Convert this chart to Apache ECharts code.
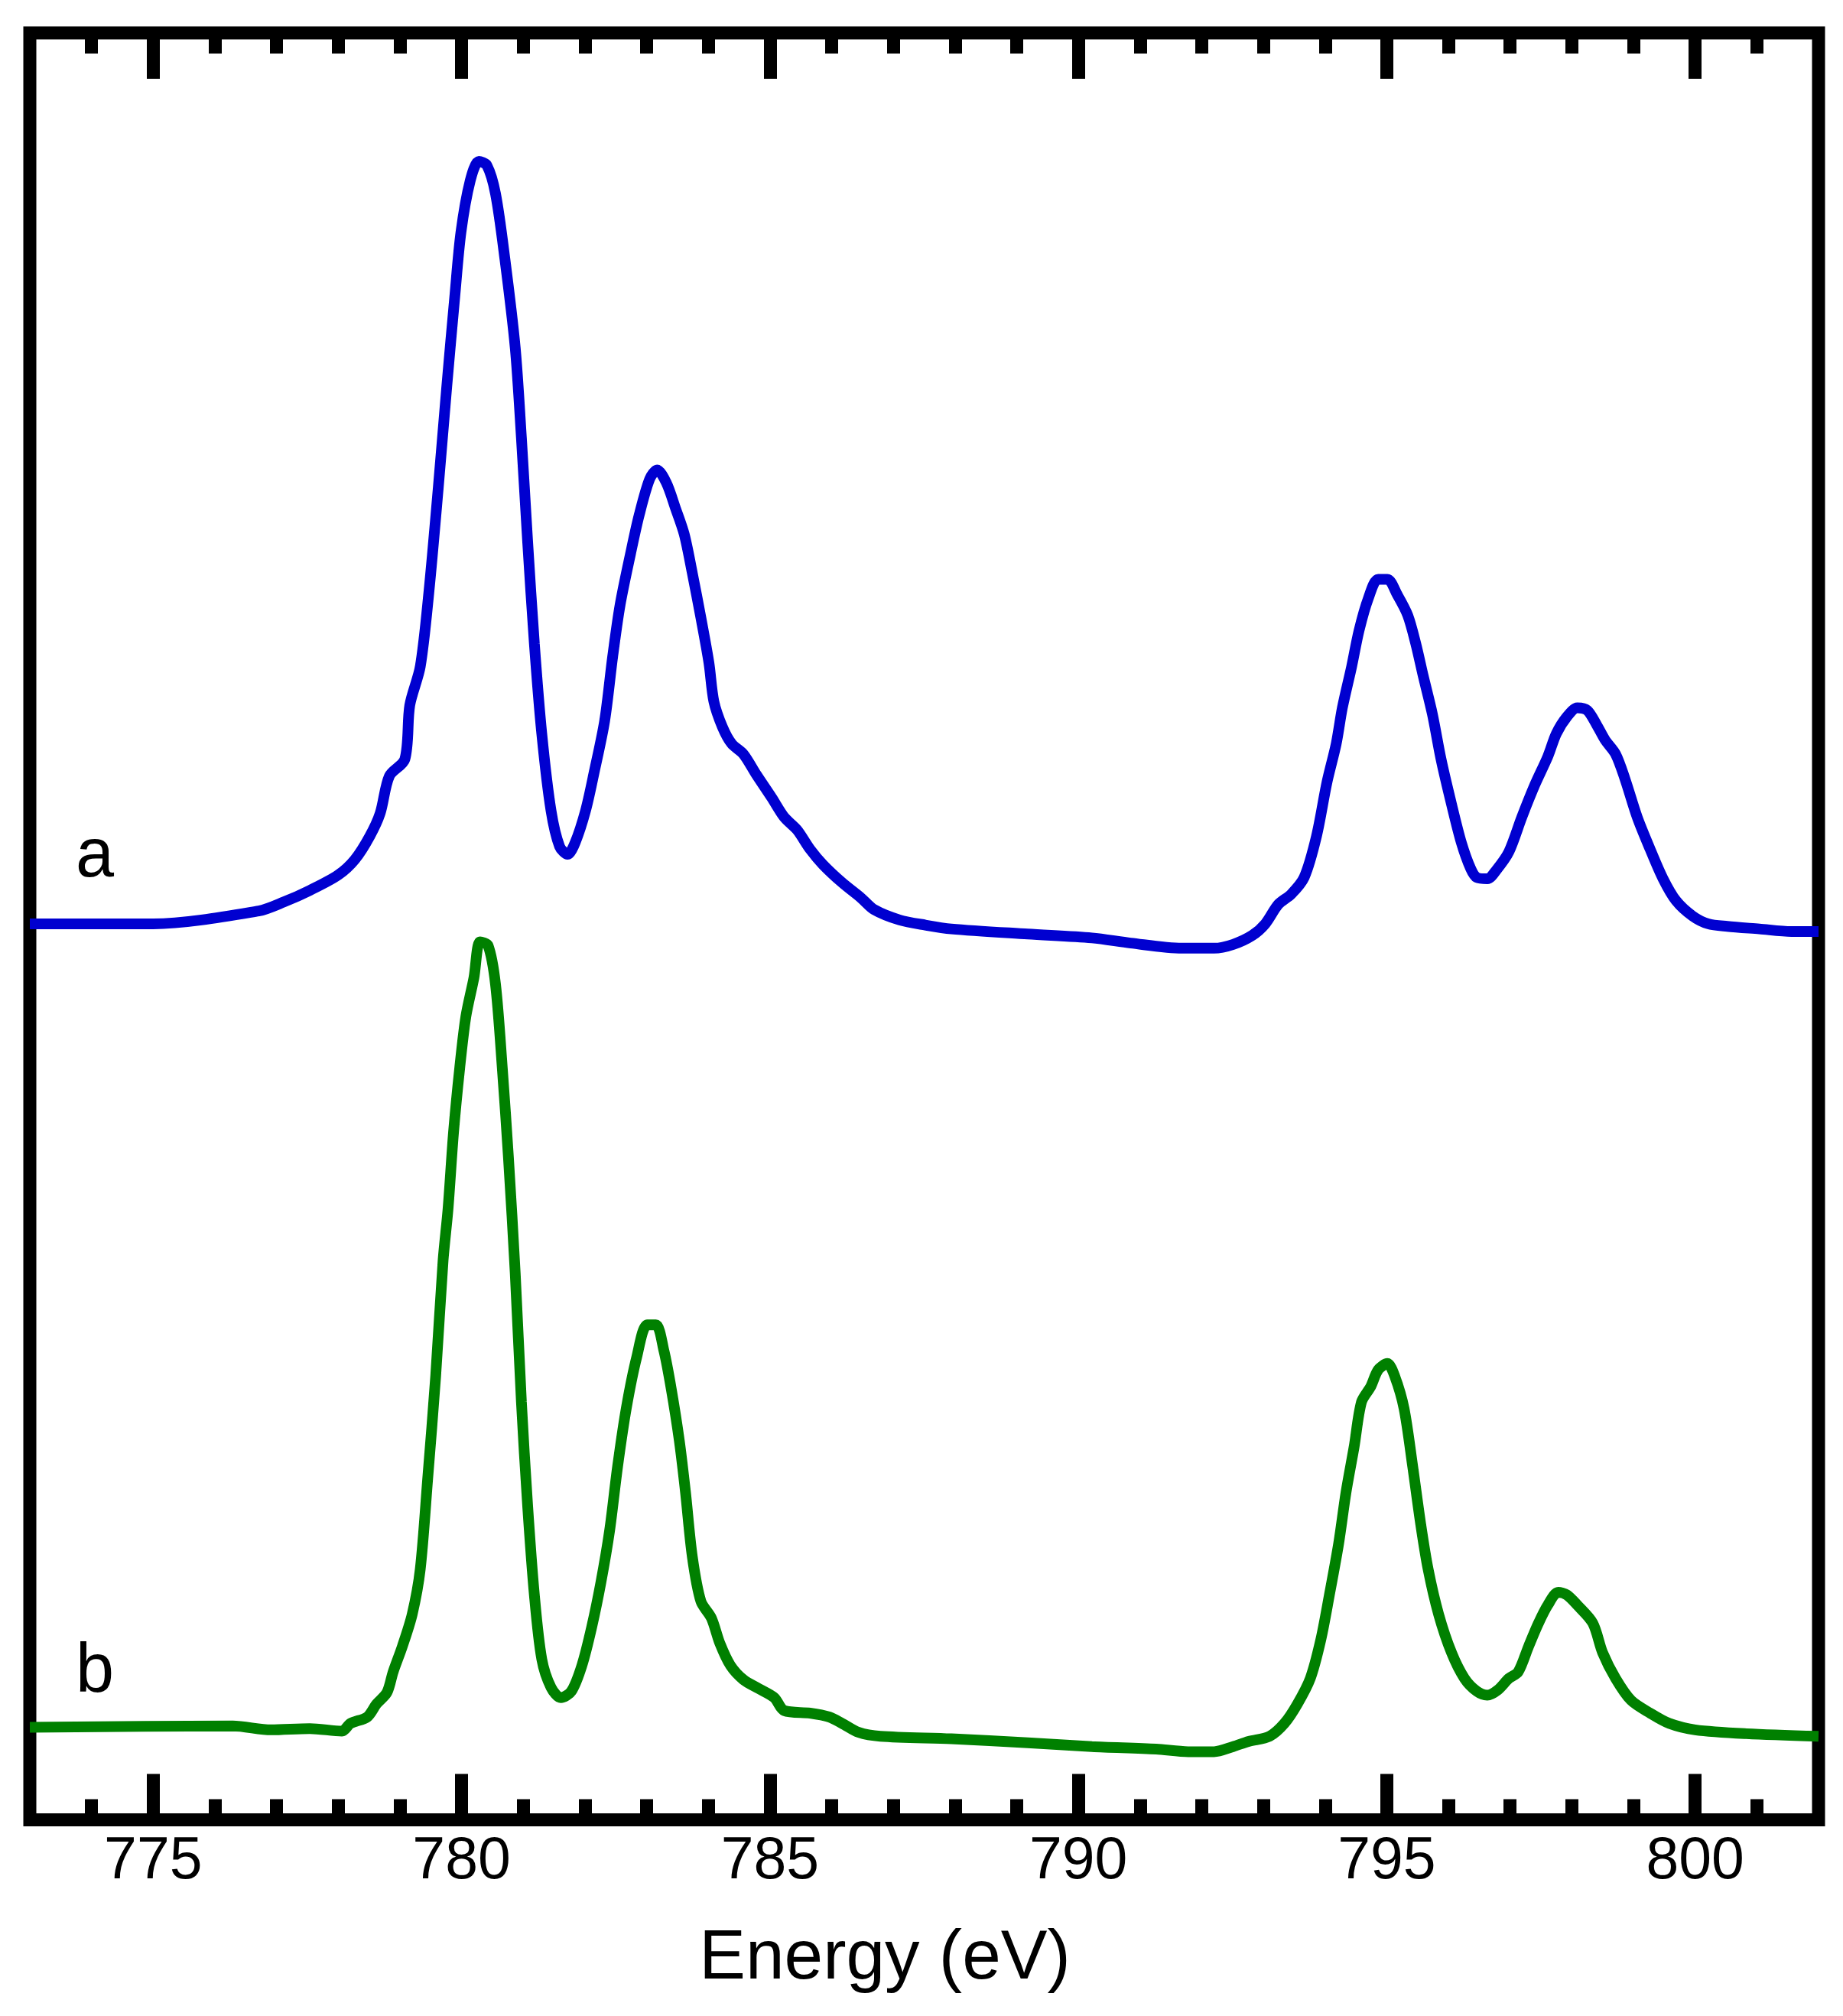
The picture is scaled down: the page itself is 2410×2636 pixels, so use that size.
<!DOCTYPE html>
<html>
<head>
<meta charset="utf-8">
<script src="https://cdn.jsdelivr.net/npm/echarts@6/dist/echarts.min.js"></script>
<style>
html,body{margin:0;padding:0;background:#fff;}
#chart{width:2410px;height:2636px;}
</style>
</head>
<body>
<div id="chart"></div>
<script>
// Spectrum a (blue): energy (eV) and intensity (arbitrary units, offset)
const energyA = [773.0,775.0,776.71,777.12,777.54,778.0,778.27,778.51,778.68,778.83,779.08,779.16,779.33,779.47,779.62,779.76,779.89,779.99,780.14,780.28,780.41,780.55,780.70,780.87,780.97,781.07,781.18,781.30,781.45,781.59,781.72,781.84,782.01,782.15,782.32,782.45,782.57,782.74,782.88,783.05,783.17,783.32,783.47,783.61,783.74,783.88,784.01,784.09,784.23,784.38,784.57,784.78,785.03,785.23,785.44,785.65,785.86,786.17,786.48,786.69,787.1,787.52,787.94,789.18,790.22,790.85,791.68,792.2,792.51,792.82,793.03,793.24,793.45,793.66,793.86,794.03,794.18,794.28,794.43,794.55,794.70,794.86,795.01,795.17,795.34,795.47,795.59,795.74,795.88,796.05,796.21,796.36,796.46,796.63,796.78,796.98,797.19,797.4,797.61,797.75,797.92,798.09,798.25,798.40,798.54,798.71,798.86,799.06,799.27,799.48,799.69,799.96,800.21,800.52,801.04,801.56,802.0];
const intensityA = [697,697,707,714,723,735,747,765,783,812,825,867,897,955,1035,1115,1185,1235,1275,1290,1287,1265,1215,1145,1075,995,915,845,785,757,751,760,785,815,855,905,945,985,1015,1043,1050,1040,1020,1000,970,935,900,870,850,837,829,813,795,780,770,755,743,729,717,708,700,696,693,689,686,682,678,678,681,688,697,712,720,733,765,807,837,865,897,925,950,965,965,953,937,915,890,860,825,790,760,740,733,732,739,753,780,805,827,845,858,865,863,852,840,829,810,780,755,732,715,703,697,695,693,691,691];

// Spectrum b (green)
const energyB = [773.0,776.29,776.91,777.54,778.06,778.2,778.47,778.62,778.79,778.89,779.04,779.2,779.33,779.45,779.58,779.70,779.78,779.87,779.97,780.07,780.2,780.3,780.43,780.55,780.66,780.76,780.87,780.97,781.07,781.18,781.30,781.45,781.61,781.78,781.95,782.11,782.26,782.40,782.53,782.67,782.84,783.01,783.15,783.28,783.40,783.53,783.63,783.74,783.88,784.05,784.19,784.36,784.57,784.82,785.07,785.23,785.65,785.96,786.17,786.44,786.79,787.94,789.18,790.22,791.26,791.78,792.2,792.51,792.76,793.1,793.34,793.55,793.76,793.93,794.07,794.22,794.34,794.47,794.59,794.74,794.86,795.01,795.13,795.28,795.42,795.55,795.67,795.84,796.05,796.26,796.46,796.63,796.8,796.98,797.13,797.30,797.46,797.61,797.78,797.92,798.09,798.34,798.5,798.71,798.96,799.27,799.58,800.0,800.83,802.0];
const intensityB = [72,73,70,71,69,75,80,90,99,115,135,160,195,265,345,435,475,535,585,625,655,683,680,650,585,515,425,325,245,175,125,103,95,100,120,150,185,225,275,320,360,385,385,365,335,295,255,205,170,157,137,120,109,102,95,85,83,80,75,68,65,63,60,57,55,53,53,57,61,65,75,90,110,140,175,215,255,290,325,337,350,355,345,320,275,230,195,160,130,110,100,97,101,110,115,135,153,167,177,175,167,153,130,110,93,83,75,70,67,65];

// Axis ticks / labels
const majorTicks = [775,780,785,790,795,800];
const minorTicks = [774,776,777,778,779,781,782,783,784,786,787,788,789,791,792,793,794,796,797,798,799,801];
const seriesLabels = ['a','b'];
const xTitle = 'Energy (eV)';

const FONT = '"Liberation Sans", Arial, Helvetica, sans-serif';
const chart = echarts.init(document.getElementById('chart'), null, {renderer:'canvas'});

function xAx(position, ticks, len, withLabels) {
  const ax = {
    type:'value', min:773, max:802, position: position,
    axisLine:{show:false}, splitLine:{show:false},
    axisTick:{show:true, inside:true, length:len, customValues:ticks, lineStyle:{color:'#000', width:17}},
    axisLabel:{show:false}
  };
  if (withLabels) {
    ax.axisLabel = {show:true, customValues:ticks, fontSize:77, color:'#000', fontFamily:FONT, margin:17};
  }
  return ax;
}

const option = {
  backgroundColor:'#fff',
  animation:false,
  grid:{left:39, right:32, top:43, bottom:256.5, show:true, borderWidth:17, borderColor:'#000', containLabel:false},
  xAxis:[
    xAx('bottom', majorTicks, 60, true),
    xAx('bottom', minorTicks, 27, false),
    xAx('top', majorTicks, 60, false),
    xAx('top', minorTicks, 27, false)
  ],
  yAxis:{type:'value', min:0, max:1390, show:false},
  series:[
    {type:'line', name:'a', xAxisIndex:0, data: energyA.map((e,i)=>[e,intensityA[i]]), showSymbol:false, smooth:0.3,
     lineStyle:{color:'#0000d0', width:14}, itemStyle:{color:'#0000d0'}, z:3},
    {type:'line', name:'b', xAxisIndex:0, data: energyB.map((e,i)=>[e,intensityB[i]]), showSymbol:false, smooth:0.3,
     lineStyle:{color:'#008000', width:14}, itemStyle:{color:'#008000'}, z:3}
  ],
  graphic:[
    {type:'text', x:124, y:1121, style:{text:seriesLabels[0], fontSize:90, fontFamily:FONT, fill:'#000', align:'center', verticalAlign:'middle'}},
    {type:'text', x:124, y:2187, style:{text:seriesLabels[1], fontSize:90, fontFamily:FONT, fill:'#000', align:'center', verticalAlign:'middle'}},
    {type:'text', x:1157, y:2562, style:{text:xTitle, fontSize:91, fontFamily:FONT, fill:'#000', align:'center', verticalAlign:'middle'}}
  ]
};
chart.setOption(option);
</script>
</body>
</html>
